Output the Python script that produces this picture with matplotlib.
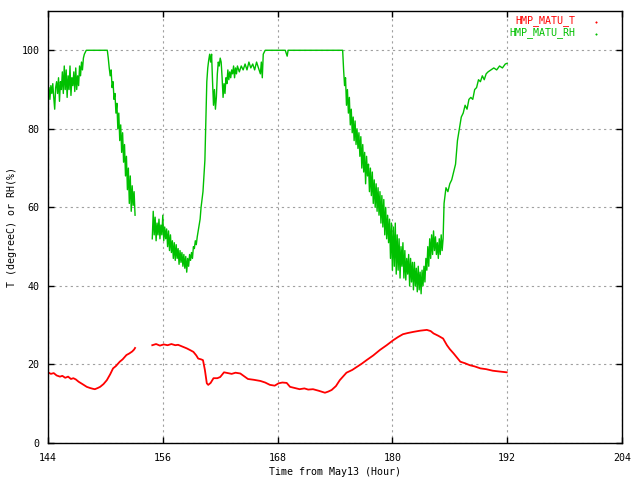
import matplotlib
matplotlib.use("Agg")
import matplotlib.pyplot as plt

# Relative humidity, before the logging gap
rh_hours_1 = [144.0, 144.1, 144.2, 144.3, 144.4, 144.5, 144.6, 144.7, 144.8, 144.9,
              145.0, 145.1, 145.2, 145.3, 145.4, 145.5, 145.6, 145.7, 145.8, 145.9,
              146.0, 146.1, 146.2, 146.3, 146.4, 146.5, 146.6, 146.7, 146.8, 146.9,
              147.0, 147.1, 147.2, 147.3, 147.4, 147.5, 147.6, 147.7, 147.8, 147.9,
              148.0, 148.5, 149.0, 149.5, 150.0, 150.2, 150.3, 150.4, 150.5, 150.6,
              150.7, 150.8, 150.9, 151.0, 151.1, 151.2, 151.3, 151.4, 151.5, 151.6,
              151.7, 151.8, 151.9, 152.0, 152.1, 152.2, 152.3, 152.4, 152.5, 152.6,
              152.7, 152.8, 152.9, 153.0, 153.1]
rh_values_1 = [88.5, 90.5, 87.5, 91.0, 89.0, 91.5, 88.0, 85.0, 90.5, 92.0,
               89.0, 93.0, 87.0, 92.0, 90.0, 94.5, 89.0, 96.0, 90.0, 95.0,
               88.0, 93.5, 90.0, 96.0, 88.5, 93.0, 91.0, 94.5, 89.5, 95.5,
               90.0, 93.5, 91.0, 96.0, 93.5, 97.0, 95.0, 98.0, 99.0, 99.5,
               100, 100, 100, 100, 100, 100, 98.0, 95.5, 93.5, 95.0,
               90.5, 92.0, 87.5, 89.0, 84.0, 86.5, 80.0, 84.0, 77.0, 81.0,
               74.0, 79.0, 71.5, 76.0, 68.0, 73.0, 64.5, 70.0, 61.0, 68.0,
               59.0, 65.5, 60.5, 64.0, 58.0]

# Relative humidity, after the gap
rh_hours_2 = [154.9, 155.0, 155.1, 155.2, 155.3, 155.4, 155.5, 155.6, 155.7, 155.8,
              155.9, 156.0, 156.1, 156.2, 156.3, 156.4, 156.5, 156.6, 156.7, 156.8,
              156.9, 157.0, 157.1, 157.2, 157.3, 157.4, 157.5, 157.6, 157.7, 157.8,
              157.9, 158.0, 158.1, 158.2, 158.3, 158.4, 158.5, 158.6, 158.7, 158.8,
              158.9, 159.0, 159.1, 159.2, 159.3, 159.4, 159.5, 159.6, 159.7, 159.8,
              159.9, 160.0, 160.1, 160.2, 160.3, 160.4, 160.5, 160.6, 160.7, 160.8,
              160.9, 161.0, 161.1, 161.2, 161.3, 161.4, 161.5, 161.6, 161.7, 161.8,
              161.9, 162.0, 162.1, 162.2, 162.3, 162.4, 162.5, 162.6, 162.7, 162.8,
              162.9, 163.0, 163.1, 163.2, 163.3, 163.4, 163.5, 163.6, 163.7, 163.8,
              164.0, 164.2, 164.4, 164.6, 164.8, 165.0, 165.2, 165.4, 165.6, 165.8,
              166.0, 166.2, 166.3, 166.4, 166.5, 166.7, 167.0, 168.0, 168.8, 169.0,
              169.1, 169.3, 170.0, 172.0, 174.0, 174.8, 174.9, 175.0, 175.1, 175.2,
              175.3, 175.4, 175.5, 175.6, 175.7, 175.8, 175.9, 176.0, 176.1, 176.2,
              176.3, 176.4, 176.5, 176.6, 176.7, 176.8, 176.9, 177.0, 177.1, 177.2,
              177.3, 177.4, 177.5, 177.6, 177.7, 177.8, 177.9, 178.0, 178.1, 178.2,
              178.3, 178.4, 178.5, 178.6, 178.7, 178.8, 178.9, 179.0, 179.1, 179.2,
              179.3, 179.4, 179.5, 179.6, 179.7, 179.8, 179.9, 180.0, 180.1, 180.2,
              180.3, 180.4, 180.5, 180.6, 180.7, 180.8, 180.9, 181.0, 181.1, 181.2,
              181.3, 181.4, 181.5, 181.6, 181.7, 181.8, 181.9, 182.0, 182.1, 182.2,
              182.3, 182.4, 182.5, 182.6, 182.7, 182.8, 182.9, 183.0, 183.1, 183.2,
              183.3, 183.4, 183.5, 183.6, 183.7, 183.8, 183.9, 184.0, 184.1, 184.2,
              184.3, 184.4, 184.5, 184.6, 184.7, 184.8, 184.9, 185.0, 185.1, 185.2,
              185.3, 185.4, 185.5, 185.6, 185.8, 186.0, 186.2, 186.4, 186.6, 186.8,
              187.0, 187.2, 187.4, 187.6, 187.8, 188.0, 188.2, 188.4, 188.6, 188.8,
              189.0, 189.2, 189.4, 189.6, 189.8, 190.0, 190.3, 190.6, 190.9, 191.2,
              191.5, 191.8, 192.0]
rh_values_2 = [52.0, 59.0, 53.0, 57.5, 51.5, 56.0, 53.0, 57.0, 52.0, 55.5,
               53.0, 58.0, 51.5, 55.0, 52.0, 54.5, 50.0, 54.0, 49.0, 53.0,
               48.5, 51.5, 47.0, 51.0, 46.5, 50.5, 47.0, 49.5, 45.5, 49.0,
               46.0, 48.5, 45.0, 48.0, 44.5, 47.5, 43.5, 47.0, 45.0, 48.0,
               46.5, 48.5, 47.0, 50.0, 49.5, 51.5, 50.5, 52.5, 54.0, 55.5,
               57.0, 60.0, 62.0, 64.0, 68.0, 72.0, 82.0, 92.0, 95.5, 97.5,
               99.0, 97.0, 99.0, 92.0, 86.0, 90.0, 85.0, 88.0, 94.0, 97.0,
               96.0, 98.0, 97.0, 93.0, 88.0, 91.5, 89.0, 93.0, 91.5, 95.0,
               92.5, 94.5, 93.0, 95.0, 94.0, 96.0, 93.0, 95.5, 94.0, 96.0,
               94.5, 96.0, 95.0, 96.5, 95.0, 97.0, 95.5, 96.5, 95.0, 97.0,
               95.5, 94.0, 97.0, 93.0, 99.0, 100, 100, 100, 100, 98.5,
               100, 100, 100, 100, 100, 100, 95.0, 91.0, 93.0, 86.0,
               90.0, 84.0, 88.0, 81.0, 85.0, 79.0, 83.0, 77.0, 82.0, 76.0,
               80.0, 75.0, 79.0, 73.0, 78.0, 70.0, 76.0, 69.0, 74.0, 66.0,
               73.0, 68.0, 71.0, 64.0, 70.0, 63.0, 69.0, 61.0, 67.0, 60.0,
               66.0, 59.0, 65.0, 58.0, 64.0, 56.0, 63.0, 55.0, 62.0, 53.0,
               60.0, 52.0, 58.0, 51.0, 57.0, 47.0, 56.0, 44.0, 55.0, 45.0,
               56.0, 43.0, 53.0, 44.0, 52.0, 42.0, 50.0, 45.0, 51.0, 42.0,
               49.0, 41.5, 47.0, 43.0, 48.0, 40.0, 47.0, 41.0, 46.0, 39.0,
               46.0, 40.0, 44.5, 38.5, 45.0, 39.0, 43.5, 38.0, 44.0, 40.0,
               45.0, 41.0, 47.0, 44.0, 50.0, 45.0, 52.0, 47.0, 53.0, 48.0,
               54.0, 49.0, 52.5, 48.0, 51.0, 47.0, 52.0, 48.0, 53.0, 49.0,
               52.0, 61.0, 63.0, 65.0, 64.0, 66.0, 67.0, 69.0, 71.0, 77.0,
               80.0, 83.0, 84.0, 86.0, 85.0, 87.5, 88.0, 87.5, 90.0, 90.5,
               92.5, 92.0, 93.5, 92.5, 94.0, 94.5, 95.0, 95.5, 95.0, 96.0,
               95.5, 96.5, 96.7]

# Temperature, before and after the gap
t_hours_1 = [144.0, 144.3, 144.6, 144.9, 145.25, 145.5, 145.8, 146.1, 146.4, 146.65,
             146.9, 147.2, 147.6, 148.05, 148.4, 148.7, 148.9, 149.2, 149.45, 149.8,
             150.15, 150.5, 150.8, 151.1, 151.5, 151.8, 152.2, 152.5, 152.8, 153.0,
             153.1]
t_values_1 = [18.0, 17.6, 17.8, 17.2, 16.9, 17.1, 16.6, 16.9, 16.3, 16.5,
              16.2, 15.6, 15.0, 14.3, 14.0, 13.8, 13.7, 14.0, 14.3, 15.0,
              16.0, 17.5, 19.0, 19.6, 20.7, 21.3, 22.4, 22.8, 23.3, 23.8,
              24.2]
t_hours_2 = [154.9, 155.3, 155.7, 156.1, 156.5, 156.9, 157.3, 157.6, 158.0, 158.5,
             158.9, 159.2, 159.5, 159.7, 160.0, 160.2, 160.4, 160.6, 160.75, 161.0,
             161.3, 161.7, 162.0, 162.4, 162.8, 163.2, 163.6, 164.1, 164.5, 164.9,
             165.5, 166.2, 166.7, 167.2, 167.7, 168.1, 168.5, 168.95, 169.3, 169.8,
             170.3, 170.8, 171.2, 171.7, 172.3, 172.95, 173.3, 173.65, 174.1, 174.5,
             175.2, 175.8, 176.3, 176.8, 177.3, 178.0, 178.7, 179.4, 180.1, 180.6,
             181.1, 181.6, 182.2, 182.9, 183.6, 184.0, 184.3, 184.8, 185.3, 185.7,
             186.0, 186.4, 186.8, 187.1, 187.6, 188.1, 188.6, 189.2, 189.8, 190.5,
             191.2, 191.95]
t_values_2 = [24.9, 25.2, 24.8, 25.1, 24.9, 25.2, 24.9, 25.0, 24.6, 24.1,
              23.6, 23.2, 22.3, 21.5, 21.3, 21.1, 18.6, 15.2, 14.8, 15.3,
              16.5, 16.5, 16.8, 18.0, 17.8, 17.6, 17.9, 17.7, 17.0, 16.3,
              16.1, 15.8, 15.4, 14.8, 14.6, 15.2, 15.4, 15.3, 14.3, 14.0,
              13.7, 13.9, 13.6, 13.7, 13.3, 12.8, 13.1, 13.5, 14.5, 16.0,
              17.9, 18.6, 19.4, 20.2, 21.1, 22.3, 23.7, 24.9, 26.2, 27.0,
              27.7, 28.0, 28.3, 28.6, 28.8, 28.5, 27.9, 27.3, 26.6, 24.9,
              23.9, 22.8, 21.6, 20.7, 20.3, 19.8, 19.5, 19.0, 18.8, 18.4,
              18.2, 18.0]

x_ticks = [144, 156, 168, 180, 192, 204]
y_ticks = [0, 20, 40, 60, 80, 100]

RED = "#ff0000"
GREEN = "#00c000"
FONT = "DejaVu Sans Mono"
FS = 7.2

plt.rcParams["font.family"] = FONT
plt.rcParams["font.size"] = FS

fig = plt.figure(figsize=(6.4, 4.8), dpi=100)
ax = fig.add_axes([48 / 640, 37 / 480, 574 / 640, 432 / 480])

ax.plot(t_hours_1, t_values_1, color=RED, lw=1.3)
ax.plot(t_hours_2, t_values_2, color=RED, lw=1.3)
ax.plot(rh_hours_1, rh_values_1, color=GREEN, lw=1.0)
ax.plot(rh_hours_2, rh_values_2, color=GREEN, lw=1.0)

ax.set_xlim(144, 204)
ax.set_ylim(0, 110)
ax.set_xticks(x_ticks)
ax.set_yticks(y_ticks)
ax.set_axisbelow(True)
ax.grid(True, color="#a0a0a0", linestyle=(0, (2, 3)), linewidth=0.8)
ax.tick_params(direction="in", length=4, width=1, top=True, right=True,
               labelsize=FS, pad=6)
ax.tick_params(axis="x", pad=7)
for sp in ax.spines.values():
    sp.set_linewidth(1)

ax.set_xlabel("Time from May13 (Hour)", fontsize=FS)
ax.set_ylabel("T (degreeC) or RH(%)", fontsize=FS)
ax.xaxis.set_label_coords(0.5, -0.055)
ax.yaxis.set_label_coords(-0.054, 0.5)

# gnuplot style key in the top right corner
ax.text(0.918, 0.978, "HMP_MATU_T", color=RED, ha="right", va="center",
        transform=ax.transAxes, fontsize=FS)
ax.text(0.918, 0.949, "HMP_MATU_RH", color=GREEN, ha="right", va="center",
        transform=ax.transAxes, fontsize=FS)
ax.plot([0.955], [0.975], marker="s", ms=0.5, color=RED, transform=ax.transAxes)
ax.plot([0.955], [0.946], marker="s", ms=0.5, color=GREEN, transform=ax.transAxes)

fig.savefig("out.png", dpi=100)
